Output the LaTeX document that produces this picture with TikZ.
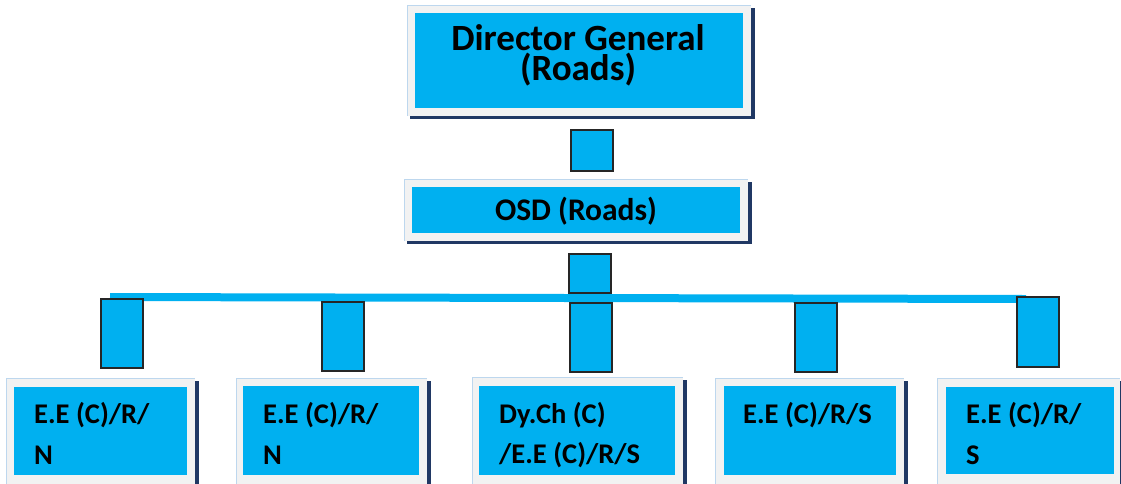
\documentclass[tikz,border=0pt]{standalone}
\usepackage{fontspec}
\setmainfont{Carlito}
\definecolor{oblue}{HTML}{00B0F0}
\definecolor{navy}{HTML}{203864}
\definecolor{framegray}{HTML}{F2F2F2}
\definecolor{edgeblue}{HTML}{BDD7EE}
\tikzset{
  bluebox/.style={fill=oblue, draw=none, inner sep=0pt},
  linkbox/.style={fill=oblue, draw=black!85, line width=1.2pt, inner sep=0pt},
  txt/.style={inner sep=0pt, text=black, font=\bfseries},
  bigtxt/.style={txt, font=\fontsize{37}{30}\selectfont\bfseries, anchor=base, align=center},
  midtxt/.style={txt, font=\fontsize{31.5}{34}\selectfont\bfseries, anchor=base},
  smalltxt/.style={txt, font=\fontsize{28.5}{41}\selectfont\bfseries, anchor=base west},
  bar/.style={draw=oblue, line width=8pt},
}
\newcommand{\framedbox}[5]{%
  % #1 name, #2 x1, #3 y1, #4 x2, #5 y2 : outer frame
  \fill[navy] (#2+3,#3+3) rectangle (#4+4,#5+3);
  \fill[framegray] (#2,#3) rectangle (#4,#5);
  \draw[edgeblue, line width=1pt] (#2,#5) -- (#2,#3) -- (#4,#3);
}
\begin{document}
\begin{tikzpicture}[x=1pt,y=-1pt]
\useasboundingbox (0,0) rectangle (1121,483);

% top box
\framedbox{dgf}{407}{5}{751}{116}
\node[bluebox, minimum width=328pt, minimum height=95pt] (dg) at (579,60.5) {};
\node[bigtxt] (dgt) at (578,80) {Director General\\(Roads)};

% link square
\node[linkbox, minimum width=42pt, minimum height=41pt] (c0) at (592,150.5) {};

% OSD box
\framedbox{osdf}{404}{179}{748}{241}
\node[bluebox, minimum width=328pt, minimum height=46pt] (osd) at (576,210) {};
\node[midtxt] (osdt) at (576,220) {OSD (Roads)};

\node[linkbox, minimum width=42pt, minimum height=39pt] (c1) at (590,273.5) {};

% horizontal bar
\coordinate (hl) at (110,297);
\coordinate (hr) at (1026,299);
\draw[bar] (hl) -- (hr);

% vertical links
\node[linkbox, minimum width=42pt, minimum height=69pt] (v1) at (122,333.5) {};
\node[linkbox, minimum width=42pt, minimum height=69pt] (v2) at (343,336.5) {};
\node[linkbox, minimum width=42pt, minimum height=69pt] (v3) at (591,337.5) {};
\node[linkbox, minimum width=42pt, minimum height=69pt] (v4) at (816,337.5) {};
\node[linkbox, minimum width=42pt, minimum height=70pt] (v5) at (1038,332) {};

% bottom boxes
\framedbox{b1f}{6}{378}{195}{492}
\node[bluebox, minimum width=173pt, minimum height=88pt] (b1) at (100.5,431) {};
\node[smalltxt] (b1t1) at (34,423) {E.E (C)/R/};
\node[smalltxt] (b1t2) at (34,464) {N};

\framedbox{b2f}{236}{378}{427}{492}
\node[bluebox, minimum width=176pt, minimum height=89pt] (b2) at (331,430.5) {};
\node[smalltxt] (b2t1) at (263,423) {E.E (C)/R/};
\node[smalltxt] (b2t2) at (263,464) {N};

\framedbox{b3f}{472}{377}{683}{492}
\node[bluebox, minimum width=196pt, minimum height=89pt] (b3) at (577,430.5) {};
\node[smalltxt] (b3t1) at (499,423) {Dy.Ch (C)};
\node[smalltxt] (b3t2) at (499,463) {/E.E (C)/R/S};

\framedbox{b4f}{715}{378}{904}{492}
\node[bluebox, minimum width=172pt, minimum height=89pt] (b4) at (810,430.5) {};
\node[smalltxt] (b4t1) at (743,423) {E.E (C)/R/S};

\framedbox{b5f}{937}{378}{1120}{492}
\node[bluebox, minimum width=168pt, minimum height=87pt] (b5) at (1030,430.5) {};
\node[smalltxt] (b5t1) at (966,423) {E.E (C)/R/};
\node[smalltxt] (b5t2) at (966,464) {S};
\end{tikzpicture}
\end{document}
